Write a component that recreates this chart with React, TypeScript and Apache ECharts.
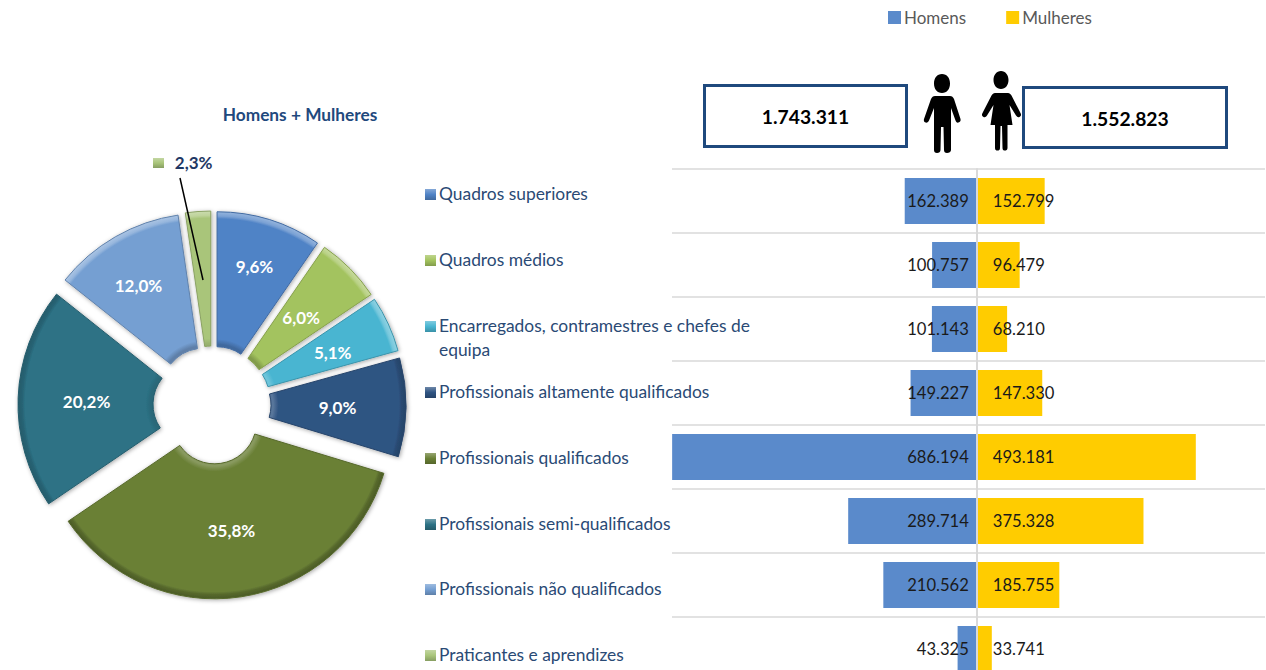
import React, { useEffect, useRef } from "react";
import * as echarts from "echarts";

const categories = [
  "Quadros superiores",
  "Quadros médios",
  "Encarregados, contramestres e chefes de\nequipa",
  "Profissionais altamente qualificados",
  "Profissionais qualificados",
  "Profissionais semi-qualificados",
  "Profissionais não qualificados",
  "Praticantes e aprendizes",
];
const homens = [162389, 100757, 101143, 149227, 686194, 289714, 210562, 43325];
const mulheres = [152799, 96479, 68210, 147330, 493181, 375328, 185755, 33741];
const shares = [9.6, 6.0, 5.1, 9.0, 35.8, 20.2, 12.0, 2.3];
const totalHomens = "1.743.311";
const totalMulheres = "1.552.823";

const sliceColors = ["#5083C6", "#A3C35E", "#49B5D1", "#2F5482", "#6A8036", "#2D7285", "#759FD2", "#A9C57A"];
const labelNudges = [[4, -15], [-3, 3], [3, 2], [-4, 1], [0, -3], [4, 1], [-9, -7], [-9, -113]];
const legendY = [194, 260, 326, 392, 458, 524, 589, 655];

const FONT = "Lato";
const MAN =
  "M942 74C947 74 950 78 950 83.500C950 89 947 93 942 93C937 93 934 89 934 83.500C934 78 937 74 942 74Z" +
  "M935 96L950 96C952 96 953 97 954 99L960.500 119C961 121 960 122 958.500 122.500C957 123 956 122 955.500 120.500L951 108L951 150C951 152 949 153 947 153C945 153 944 152 944 150L943.500 127L941 127L940.500 150C940.500 152 939 153 937 153C935 153 934 152 934 150L934 108L929 120.500C928.500 122 927 123 925.500 122.500C924 122 923.500 120.500 924 119L931 99C932 97 933 96 935 96Z";
const WOMAN =
  "M1001 71C1005.500 71 1008.500 75 1008.500 80C1008.500 85 1005.500 89 1001 89C996.500 89 993.500 85 993.500 80C993.500 75 996.500 71 1001 71Z" +
  "M995 93L1008 93C1009.500 93 1010.500 94 1011.500 95.500L1020.500 113C1021.500 115 1021 116 1019.500 117C1018 117.500 1017 117 1016 115.500L1009.500 105L1012.500 125L1007.500 125L1007.500 148C1007.500 150 1006 150.500 1005 150.500C1003.500 150.500 1002.500 150 1002.500 148L1002 126L1000.500 126L1000 148C1000 150 999 150.500 997.500 150.500C996 150.500 995 150 995 148L995 125L990.500 125L993.500 105L987 115.500C986 117 985 117.500 983.500 117C982 116 981.500 115 982.500 113L991.500 95.500C992.500 94 993.500 93 995 93Z";

echarts.graphic.registerShape("manIcon", echarts.graphic.extendPath(MAN, {}));
echarts.graphic.registerShape("womanIcon", echarts.graphic.extendPath(WOMAN, {}));

const shade = (hex: string, k: number) => {
  const n = parseInt(hex.slice(1), 16);
  const ch = (v: number) => {
    const out = k >= 0 ? v + (255 - v) * k : v * (1 + k);
    return Math.round(out).toString(16).padStart(2, "0");
  };
  return "#" + ch((n >> 16) & 255) + ch((n >> 8) & 255) + ch(n & 255);
};

const CX = 212;
const CY = 405;
const R = 177;
// outer bevel tone per slice: lit from above, dark on the lower slices
const rimTones = [0.4, 0.4, 0.4, -0.2, -0.3, -0.2, 0.4, 0.4];
const innerTones = [-0.2, -0.2, 0.2, 0.2, 0.2, -0.1, -0.2, -0.1];
const bevel = (c: string, rim: number, inner: number) => ({
  type: "radial",
  x: CX,
  y: CY,
  r: R,
  global: true,
  colorStops: [
    { offset: 0, color: shade(c, inner) },
    { offset: 0.25, color: shade(c, inner) },
    { offset: 0.28, color: c },
    { offset: 0.96, color: c },
    { offset: 0.975, color: shade(c, rim * 0.6) },
    { offset: 1, color: shade(c, rim) },
  ],
});
const swatch = (c: string) => ({
  type: "linear",
  x: 0,
  y: 0,
  x2: 0,
  y2: 1,
  colorStops: [
    { offset: 0, color: shade(c, 0.3) },
    { offset: 0.5, color: c },
    { offset: 1, color: shade(c, -0.2) },
  ],
});

const dotted = (v: number) => String(Math.abs(v)).replace(/\B(?=(\d{3})+$)/g, ".");
const pct = (v: number) => v.toFixed(1).replace(".", ",") + "%";

const legendGraphics = categories.flatMap((name, i) => [
  {
    type: "rect",
    shape: { x: 425, y: legendY[i] - 5, width: 11, height: 11 },
    style: { fill: swatch(sliceColors[i]) },
  },
  {
    type: "text",
    x: 439,
    y: legendY[i] - 13,
    style: { text: name, fill: "#2A4A75", font: `17.400px ${FONT}`, lineHeight: 24 },
  },
]);

const option = {
  animation: false,
  backgroundColor: "#ffffff",
  legend: {
    left: 883,
    top: 4,
    data: ["Homens", "Mulheres"],
    itemWidth: 13,
    itemHeight: 13,
    itemGap: 40,
    icon: "rect",
    textStyle: { color: "#595959", fontFamily: FONT, fontSize: 17, padding: [0, 0, 0, -2] },
  },
  grid: { left: 672, top: 169, width: 593, height: 512, outerBoundsMode: "none" },
  xAxis: { type: "value", min: -686500, max: 649000, show: false },
  yAxis: {
    type: "category",
    inverse: true,
    data: categories,
    z: 4,
    axisTick: { show: false },
    axisLabel: { show: false },
    axisLine: { show: true, onZero: true, lineStyle: { color: "#D9D9D9", width: 2 } },
    splitLine: { show: true, interval: 0, lineStyle: { color: "#D9D9D9", width: 1.5 } },
  },
  series: [
    {
      type: "bar",
      name: "Homens",
      stack: "total",
      barWidth: 46,
      data: homens.map((v) => -v),
      itemStyle: { color: "#5A8ACB" },
      label: {
        show: true,
        position: "insideRight",
        distance: 8,
        color: "#1A1A1A",
        fontFamily: FONT,
        fontSize: 16.6,
        formatter: (p: any) => dotted(p.value),
      },
    },
    {
      type: "bar",
      name: "Mulheres",
      stack: "total",
      barWidth: 46,
      data: mulheres,
      itemStyle: { color: "#FFCC00" },
      label: {
        show: true,
        position: "insideLeft",
        distance: 16,
        color: "#1A1A1A",
        fontFamily: FONT,
        fontSize: 16.6,
        formatter: (p: any) => dotted(p.value),
      },
    },
    {
      type: "pie",
      center: [CX, CY],
      radius: [42, R],
      startAngle: 90,
      selectedMode: "multiple",
      selectedOffset: 17,
      avoidLabelOverlap: false,
      silent: true,
      labelLine: { show: false },
      labelLayout: (p: any) => ({ dx: labelNudges[p.dataIndex][0], dy: labelNudges[p.dataIndex][1] }),
      data: shares.map((v, i) => {
        const fill = bevel(sliceColors[i], rimTones[i], innerTones[i]);
        return {
          value: v,
          name: categories[i],
          selected: true,
          itemStyle: {
            color: fill,
            borderColor: shade(sliceColors[i], -0.18),
            borderWidth: 1,
            shadowBlur: 4,
            shadowColor: "rgba(0,0,0,0.35)",
            shadowOffsetX: 1,
            shadowOffsetY: 1,
          },
          select: { itemStyle: { color: fill } },
          label: {
            position: "inside",
            color: i === shares.length - 1 ? "#1F3864" : "#FFFFFF",
            fontFamily: FONT,
            fontWeight: "bold",
            fontSize: 17,
            formatter: () => pct(v),
          },
        };
      }),
    },
  ],
  graphic: [
    {
      type: "text",
      x: 300,
      y: 114,
      style: {
        text: "Homens + Mulheres",
        fill: "#1F497D",
        font: `bold 17.300px ${FONT}`,
        align: "center",
        verticalAlign: "middle",
      },
    },
    { type: "rect", shape: { x: 153, y: 158, width: 11, height: 10 }, style: { fill: swatch(sliceColors[7]) } },
    { type: "line", z: 10, shape: { x1: 180, y1: 178, x2: 203, y2: 280 }, style: { stroke: "#000000", lineWidth: 1.5 } },
    ...legendGraphics,
    { type: "rect", shape: { x: 704.5, y: 85.5, width: 202, height: 61 }, style: { fill: "#FFFFFF", stroke: "#1F497D", lineWidth: 3 } },
    { type: "rect", shape: { x: 1023.5, y: 87.5, width: 203, height: 60 }, style: { fill: "#FFFFFF", stroke: "#1F497D", lineWidth: 3 } },
    {
      type: "text",
      x: 805.5,
      y: 116,
      style: { text: totalHomens, fill: "#000000", font: `bold 19.300px ${FONT}`, align: "center", verticalAlign: "middle" },
    },
    {
      type: "text",
      x: 1125,
      y: 118,
      style: { text: totalMulheres, fill: "#000000", font: `bold 19.300px ${FONT}`, align: "center", verticalAlign: "middle" },
    },
    { type: "manIcon", x: 0, y: 0, style: { fill: "#000000" } },
    { type: "womanIcon", x: 0, y: 0, style: { fill: "#000000" } },
  ],
};

export default function App() {
  const ref = useRef<HTMLDivElement>(null);
  useEffect(() => {
    const chart = echarts.init(ref.current!, undefined, { renderer: "svg" });
    chart.setOption(option as any);
    return () => chart.dispose();
  }, []);
  return <div ref={ref} style={{ position: "absolute", left: 0, top: 0, width: 1266, height: 670 }} />;
}
